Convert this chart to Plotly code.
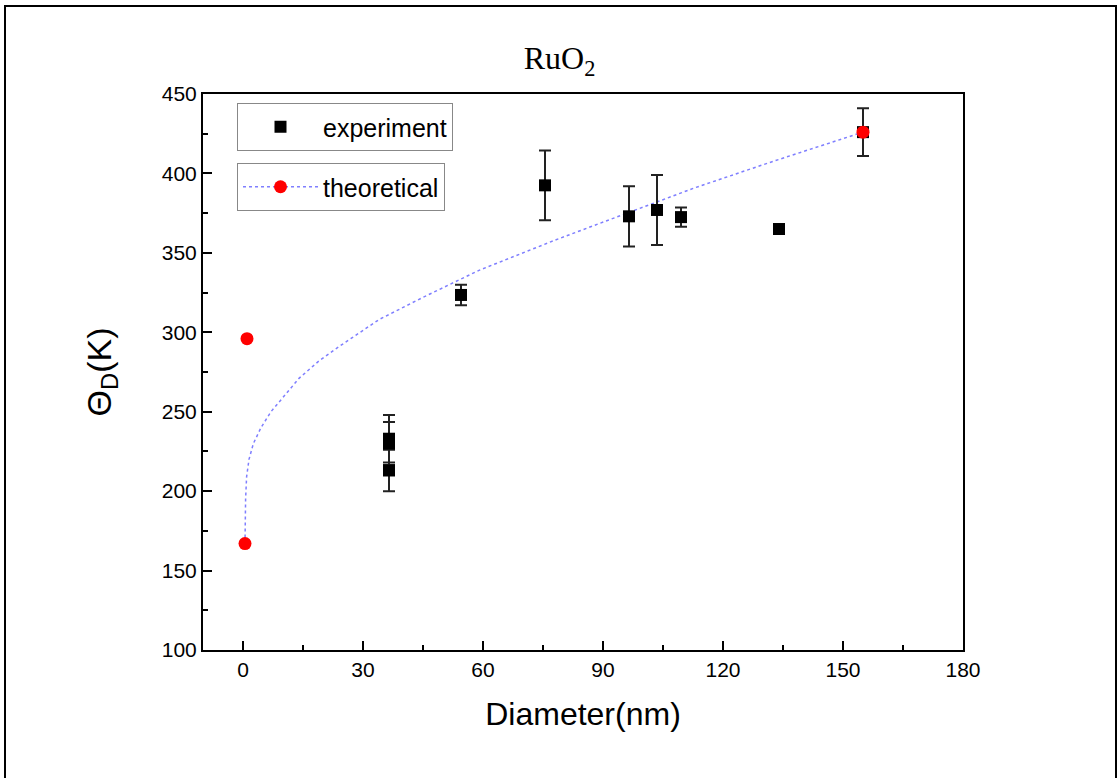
import plotly.graph_objects as go

# Experimental data (diameter nm, Debye temperature K, error)
exp_d = [36.5, 36.5, 36.5, 54.5, 75.5, 96.5, 103.5, 109.5, 134.0, 155.0]
exp_t = [233, 230, 213, 323.5, 392.5, 373, 377, 372.5, 365, 426]
exp_err = [15, 13.5, 13, 6.5, 22, 19, 22, 6, 3, 15]

# Theoretical points
theo_d = [0.5, 1.0, 155.0]
theo_t = [167, 296, 426]

# Theoretical curve
curve_d = [0.5, 0.55, 0.65, 0.9, 1.5, 2.6, 4.5, 7, 10, 14, 19, 24, 34, 45, 59, 78, 96, 113, 133, 155]
curve_t = [167, 180, 195, 209, 220, 230, 240, 250, 259, 271, 282, 291, 308, 322, 339, 358, 375, 391, 408, 426]

x_ticks = [0, 30, 60, 90, 120, 150, 180]
y_ticks = [100, 150, 200, 250, 300, 350, 400, 450]

fig = go.Figure()

fig.add_trace(go.Scatter(
    x=curve_d, y=curve_t, mode="lines", line=dict(color="#7f7fff", width=1.5, dash="3px,3px", shape="linear"),
    showlegend=False, hoverinfo="skip"))

fig.add_trace(go.Scatter(
    x=exp_d, y=exp_t, mode="markers", name="experiment",
    marker=dict(symbol="square", size=12, color="black"),
    error_y=dict(type="data", array=exp_err, visible=True, color="#222222", thickness=2, width=6),
    legend="legend"))

fig.add_trace(go.Scatter(
    x=theo_d, y=theo_t, mode="markers", name="theoretical",
    marker=dict(symbol="circle", size=13, color="#ff0000"),
    showlegend=False))

fig.add_trace(go.Scatter(
    x=[None], y=[None], mode="lines+markers", name="theoretical",
    line=dict(color="#7f7fff", width=1.5, dash="3px,3px"),
    marker=dict(symbol="circle", size=13, color="#ff0000"),
    legend="legend2"))

W, H = 1119, 778
L, R, T, B = 203, 156, 94, 128
pw, ph = W - L - R, H - T - B

def px(x):
    return (x - L) / pw

def py(y):
    return (H - B - y) / ph

fig.update_layout(
    width=W, height=H,
    margin=dict(l=L, r=R, t=T, b=B),
    paper_bgcolor="white", plot_bgcolor="white",
    font=dict(family="Liberation Sans, Arial, sans-serif", color="black"),
    title=dict(text="RuO<sub>2</sub>", x=0.5, xanchor="center", y=1 - 58 / H, yanchor="middle",
               font=dict(family="Liberation Serif, Times New Roman, serif", size=32, color="black")),
    xaxis=dict(range=[-10, 180], tickvals=x_ticks, ticks="inside", ticklen=9, tickwidth=1.5,
               tickcolor="black", showline=True, linecolor="black", linewidth=2, mirror=True,
               showgrid=False, zeroline=False,
               minor=dict(tickvals=[15, 45, 75, 105, 135, 165], ticks="inside", ticklen=5, tickwidth=1.5, tickcolor="black"),
               tickfont=dict(size=21),
               title=dict(text="Diameter(nm)", font=dict(size=32), standoff=22)),
    yaxis=dict(range=[100, 450], tickvals=y_ticks, ticks="inside", ticklen=9, tickwidth=1.5,
               tickcolor="black", showline=True, linecolor="black", linewidth=2, mirror=True,
               showgrid=False, zeroline=False,
               minor=dict(tickvals=[125, 175, 225, 275, 325, 375, 425], ticks="inside", ticklen=5, tickwidth=1.5, tickcolor="black"),
               tickfont=dict(size=21),
               title=dict(text="Θ<sub>D</sub>(K)", font=dict(size=34), standoff=40)),
    legend=dict(x=px(237), y=py(103), xanchor="left", yanchor="top", bordercolor="#888888", borderwidth=1,
                bgcolor="white", font=dict(size=25), itemwidth=75),
    legend2=dict(x=px(237), y=py(163), xanchor="left", yanchor="top", bordercolor="#888888", borderwidth=1,
                 bgcolor="white", font=dict(size=25), itemwidth=75),
    shapes=[dict(type="rect", xref="paper", yref="paper", x0=px(5), x1=px(1116), y0=py(6), y1=py(800),
                 line=dict(color="black", width=2), layer="below")],
)

fig.write_html("out.html")
